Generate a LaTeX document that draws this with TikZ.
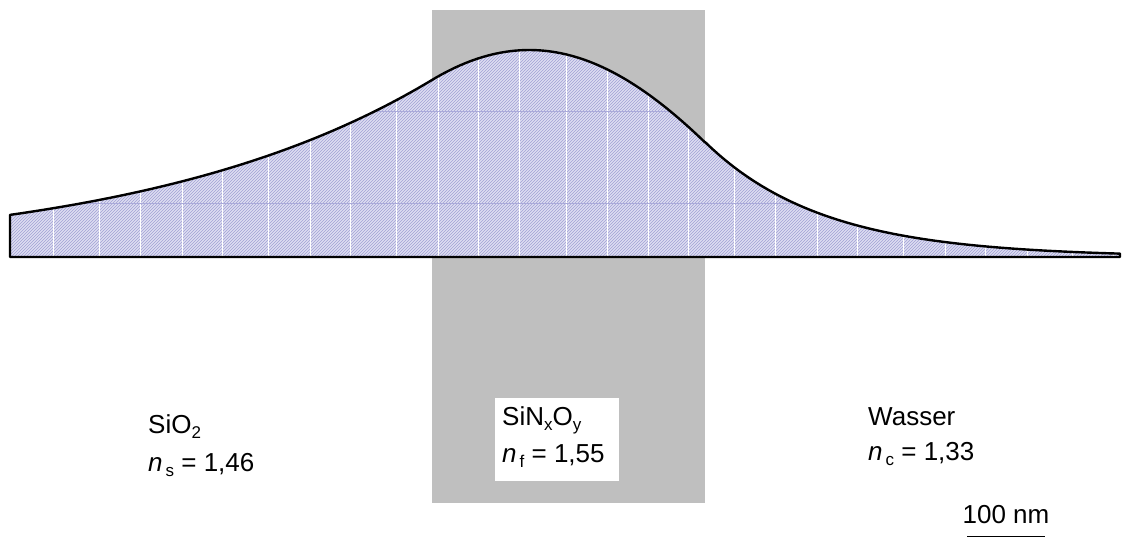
\documentclass[tikz,border=0pt]{standalone}
\usepackage{fontspec}
\setmainfont{Liberation Sans}
\usetikzlibrary{patterns}
\definecolor{film}{RGB}{191,191,191}
\definecolor{modefill}{RGB}{222,222,242}
\definecolor{hatch}{RGB}{160,160,212}
\definecolor{gridh}{RGB}{170,170,218}
\newcommand\lbsub[1]{\raisebox{-5pt}{\fontsize{17}{17}\selectfont #1}}
\newcommand\modepath{(10,257) -- plot[domain=10:432,samples=60] (\x,{257-177*exp(0.0034*(\x-432))}) -- plot[domain=432:705,samples=60] (\x,{257-207*cos(deg(0.0056*(\x-529.3)))}) -- plot[domain=705:1120,samples=60] (\x,{257-115*exp(-0.0085*(\x-705))}) -- (1120,257) -- cycle}
\begin{document}
\begin{tikzpicture}[x=1pt,y=-1pt,
  lbl/.style={anchor=base west,inner sep=0pt,font=\fontsize{26}{30}\selectfont},
  gridv/.style={white,line width=1pt},
  gridhz/.style={gridh,line width=1pt}]
\useasboundingbox (0,0) rectangle (1123,538);
\fill[film] (432,10) rectangle (705,503);
\fill[white] (495,398) rectangle (619,481);
\fill[preaction={fill=modefill},pattern=north east lines,pattern color=hatch] \modepath;
\begin{scope}
  \clip \modepath;
  \foreach \gx in {53,99,140,182,222,268,310,350,396,438,478,519,566,607,648,688,734,775,817,857,903,945,985,1027,1072,1113}
    \draw[gridv] (\gx,0) -- (\gx,257);
  \draw[gridhz] (0,111) -- (1123,111) (0,203) -- (1123,203);
\end{scope}
\draw[line width=2.4pt,line join=round] \modepath;
\node[lbl] (sio2) at (148,433) {SiO\lbsub{2}};
\node[lbl] (ns) at (148,471) {\textit{n}\kern3pt\lbsub{s} = 1,46};
\node[lbl] (sinxoy) at (502,425) {SiN\lbsub{x}O\lbsub{y}};
\node[lbl] (nf) at (502,462) {\textit{n}\kern3pt\lbsub{f} = 1,55};
\node[lbl] (wasser) at (868,425) {Wasser};
\node[lbl] (nc) at (868,460) {\textit{n}\kern3pt\lbsub{c} = 1,33};
\node[anchor=base,inner sep=0pt,font=\fontsize{26}{30}\selectfont] (scale) at (1006,523) {100 nm};
\coordinate (sbL) at (967,536.5);
\coordinate (sbR) at (1045,536.5);
\draw[line width=1.2pt] (sbL) -- (sbR);
\end{tikzpicture}
\end{document}
